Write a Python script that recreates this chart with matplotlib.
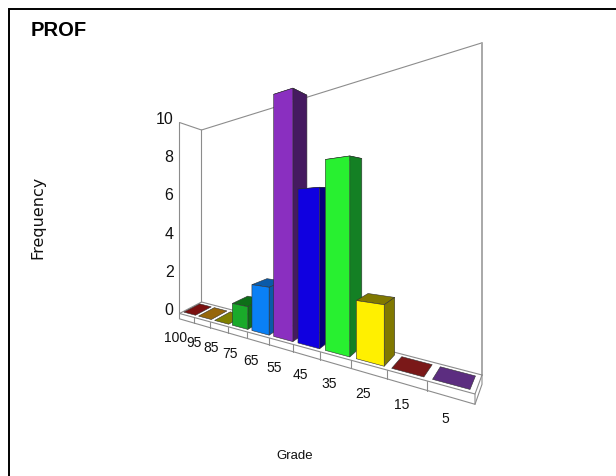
import numpy as np
import matplotlib
matplotlib.use("Agg")
import matplotlib.pyplot as plt

title = "PROF"
x_title = "Grade"
y_title = "Frequency"
grades = ["100", "95", "85", "75", "65", "55", "45", "35", "25", "15", "5"]
freq = [0, 0, 0, 1, 2, 10, 6, 7, 2, 0, 0]
y_ticks = [0, 2, 4, 6, 8, 10]

front_cols = ["#7a1010", "#96660a", "#808000", "#1aaa2a", "#0a80f5", "#8a2fc0",
              "#1000e0", "#28f030", "#fff000", "#7a1818", "#5c2d80"]
dark_cols = ["#7a1010", "#96660a", "#808000", "#0e6e18", "#0a5aa8", "#451a60",
             "#08007a", "#148024", "#807800", "#7a1818", "#5c2d80"]

plt.rcParams["font.family"] = ["Liberation Sans", "DejaVu Sans"]

# floor corners of the box on screen: front-left, front-right, back-left, back-right
floor_px = np.array([[179.5, 314.5], [475, 395], [201.5, 303], [482, 376]])
floor_uv = np.array([[0, 0], [1, 0], [0, 1], [1, 1]], float)
unit_h = 19.1  # pixels per frequency unit at the front-left corner
g, h = -0.48, 0.055  # how fast the perspective divisor changes along x and depth
shrink = 0.05  # extra loss of height towards the far back corner
n = len(grades)

w_c = 1 + g * floor_uv[:, 0] + h * floor_uv[:, 1]
A = np.column_stack([floor_uv, floor_uv[:, 0] * floor_uv[:, 1], np.ones(4)])
coef_x = np.linalg.solve(A, floor_px[:, 0] * w_c)
coef_y = np.linalg.solve(A, floor_px[:, 1] * w_c)


def proj(x, y, z):
    # x along the grades, y frequency, z depth (0 front, 1 back)
    u = x / n
    basis = np.array([u, z, u * z, 1.0])
    w = 1 + g * u + h * z
    return coef_x @ basis / w, (coef_y @ basis - y * unit_h * (1 - shrink * z * (1 - u))) / w


fig = plt.figure(figsize=(6.16, 4.77), dpi=100)
ax = fig.add_axes([0, 0, 1, 1])
ax.set_xlim(0, 616)
ax.set_ylim(477, 0)
ax.axis("off")

# outer frame, open on the bottom and right
ax.plot([9, 9, 616], [477, 10, 10], color="black", lw=1.4, solid_joinstyle="miter")


def line(pts, color="#8c8c8c", lw=0.8):
    xy = [proj(*p) for p in pts]
    ax.plot(*zip(*xy), color=color, lw=lw, solid_capstyle="round", zorder=1)


def face(pts, color):
    ax.fill(*zip(*[proj(*p) for p in pts]), facecolor=color, edgecolor="#303030", lw=0.4, zorder=2)


top = max(y_ticks)
# walls
line([(0, 0, 0), (0, top, 0), (0, top, 1), (0, 0, 1)])
line([(0, top, 1), (n, top, 1)])
line([(n, top, 1), (n, 0, 1)], color="#a8a8a8", lw=1.4)
line([(0, 0, 1), (n, 0, 1)])

# floor plate
plate = -0.28
line([(0, 0, 1), (0, 0, 0), (n, 0, 0), (n, 0, 1)])
line([(0, 0, 0), (0, plate, 0), (n, plate, 0), (n, 0, 0)])
line([(n, plate, 0), (n, plate, 1), (n, 0, 1)])
for i in range(1, n):
    line([(i, 0, 0), (i, plate, 0)])

# bars left to right so the nearer ones overlap
bx0, bx1 = 0.08, 0.88
bz0, bz1 = 0.14, 0.86
for i, v in enumerate(freq):
    l, r = i + bx0, i + bx1
    if v == 0:
        face([(l, 0, bz0), (r, 0, bz0), (r, 0, bz1), (l, 0, bz1)], dark_cols[i])
        continue
    face([(l, v, bz0), (r, v, bz0), (r, v, bz1), (l, v, bz1)], dark_cols[i])
    face([(r, 0, bz0), (r, 0, bz1), (r, v, bz1), (r, v, bz0)], dark_cols[i])
    face([(l, 0, bz0), (r, 0, bz0), (r, v, bz0), (l, v, bz0)], front_cols[i])

for t in y_ticks:
    px, py = proj(0, t, 0)
    ax.text(px - 6, py - 4, str(t), ha="right", va="center", fontsize=11.5, color="#111111")

# grade labels hang below the plate, drifting a little along the axis
for i, lab in enumerate(grades):
    px, py = proj(i + 0.5, plate, 0)
    nudge = 3 if len(lab) == 3 else 0  # keeps the wide first label clear of its neighbour
    ax.text(px - 8.5 + 0.4 * i - nudge, py + 16.5 + 0.4 * i, lab, ha="center", va="center",
            fontsize=10, color="#111111")

ax.text(31, 31, title, ha="left", va="center", fontsize=14.5, fontweight="bold", color="black")
ax.text(295, 456, x_title, ha="center", va="center", fontsize=9.5, color="#111111")
ax.text(38, 217, y_title, ha="center", va="center", rotation=90, fontsize=11.5,
        family="DejaVu Sans", color="#111111")

fig.savefig("out.png", dpi=100)
